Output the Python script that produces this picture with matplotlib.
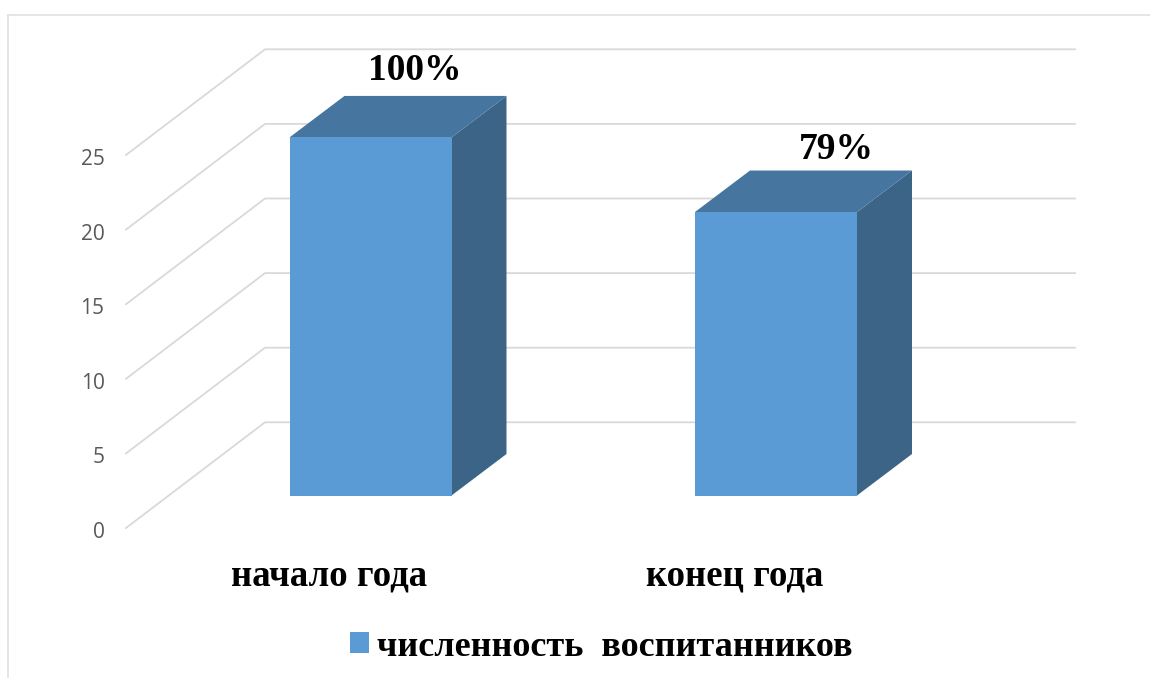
import matplotlib
matplotlib.use("Agg")
import matplotlib.pyplot as plt
from matplotlib.lines import Line2D
from matplotlib.patches import Polygon, Patch

categories = ["начало года", "конец года"]
values = [24, 19]
percent_labels = ["100%", "79%"]
ticks = [0, 5, 10, 15, 20, 25]
series_name = "численность  воспитанников"

# pixel scale of the picture
W, H = 1150, 678
PX_X = 405.5   # px per category
PX_Y = 14.92   # px per value unit
X0, Y0 = 370.5, 495.5  # first bar centre, bar floor

FRONT = '#5B9BD5'
TOP = '#4675A0'
SIDE = '#3B6487'
GRID = '#D9D9D9'
SERIF = 'Liberation Serif'

bar_w = 162 / PX_X
depth_x = 55 / PX_X
depth_y = 41.5 / PX_Y
wall_front_y = (Y0 - 528) / PX_Y
wall_back_y = (Y0 - 422.3) / PX_Y
wall_x0 = (126 - X0) / PX_X
wall_x1 = (265 - X0) / PX_X
wall_x2 = (1075 - X0) / PX_X
tick_shift = -2 / PX_Y


def draw_bar(ax, x, v):
    l, r = x - bar_w / 2, x + bar_w / 2
    ax.add_patch(Polygon([(r, 0), (r + depth_x, depth_y), (r + depth_x, v + depth_y), (r, v)],
                         fc=SIDE, ec='none', zorder=3))
    ax.add_patch(Polygon([(l, v), (l + depth_x, v + depth_y), (r + depth_x, v + depth_y), (r, v)],
                         fc=TOP, ec='none', zorder=3))
    ax.add_patch(Polygon([(l, 0), (r, 0), (r, v), (l, v)], fc=FRONT, ec='none', zorder=4))


fig = plt.figure(figsize=(W / 100, H / 100), dpi=100)
left = 110
ax = fig.add_axes([left / W, 0, 1 - left / W, 1])
ax.set_xlim((left - X0) / PX_X, (W - X0) / PX_X)
ax.set_ylim((Y0 - H) / PX_Y, Y0 / PX_Y)
for s in ax.spines.values():
    s.set_visible(False)

# outer frame of the chart, only top and left show
fig.add_artist(Line2D([8 / W, 8 / W], [0, 1 - 15 / H], color='#DEDEDE', lw=1.1))
fig.add_artist(Line2D([8 / W, 1], [1 - 15 / H, 1 - 15 / H], color='#DEDEDE', lw=1.1))

for t in ticks:
    ax.plot([wall_x0, wall_x1, wall_x2],
            [t + wall_front_y, t + wall_back_y, t + wall_back_y],
            color=GRID, lw=1.3, zorder=1, solid_joinstyle='miter')

for i, v in enumerate(values):
    draw_bar(ax, i, v)

# value labels sit above the top face
label_dx = [44, 60]
label_dy = [16, 12]
for i, v in enumerate(values):
    ax.annotate(percent_labels[i], (i, v + depth_y), xytext=(label_dx[i], label_dy[i]),
                textcoords='offset pixels', ha='center', va='baseline',
                fontsize=27, fontweight='bold', family=SERIF, color='black', zorder=5)

ax.set_yticks([t + wall_front_y + tick_shift for t in ticks], labels=[str(t) for t in ticks])
ax.set_xticks([])
ax.tick_params(axis='y', length=0, pad=4, labelcolor='#595959', labelsize=15)
for lab in ax.get_yticklabels():
    lab.set_family('Open Sans')

cat_y = (Y0 - 585) / PX_Y
for i, c in enumerate(categories):
    ax.text(i - 41.5 / PX_X, cat_y, c, ha='center', va='baseline',
            fontsize=26.5, fontweight='bold', family=SERIF, color='black')

leg = ax.legend(handles=[Patch(fc=FRONT, ec='none', label=series_name)],
                loc='center', bbox_to_anchor=(601.5 / W, 1 - 647 / H),
                bbox_transform=fig.transFigure, frameon=False,
                handlelength=0.53, handleheight=0.53, handletextpad=0.22,
                prop={'family': SERIF, 'weight': 'bold', 'size': 26})

fig.savefig('out.png', dpi=100, facecolor='white')
